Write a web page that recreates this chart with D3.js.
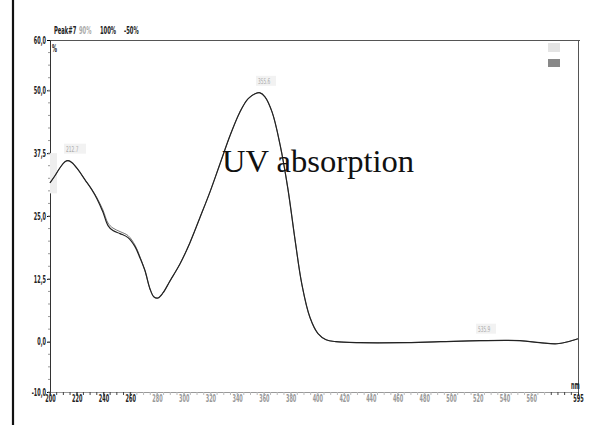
<!DOCTYPE html>
<html><head><meta charset="utf-8">
<script src="https://cdn.jsdelivr.net/npm/d3@7"></script>
<style>body{margin:0;background:#fff}svg{display:block}</style>
</head><body>
<script>
const wavelengths = [200,203.7,207.5,211.2,213.5,216.5,221,226.2,231.4,235.2,239.6,243.4,247.1,252.4,258.4,263.6,267.3,271.1,274.8,277.8,280.8,284.5,289.8,297.3,304.7,312.2,319.7,327.2,334.7,342.1,348.1,353.4,357.1,360.8,366.1,372.1,378.1,383.3,388.5,394.5,400.5,406.5,414,432,462,492,521.7,551.6,566.6,579.3,587.5,595];
const scan1 = [31.6,33.0,34.6,35.8,36.0,35.6,34.2,32.2,30.2,28.4,25.8,23.1,22.1,21.5,20.7,18.9,16.7,14.1,10.5,8.9,8.7,9.7,12.1,15.5,19.7,24.7,29.8,35.4,41.0,45.7,48.3,49.3,49.5,48.7,45.7,39.2,30.2,20.3,11.3,4.8,1.6,0.4,0,-0.2,-0.2,0,0.2,0.2,-0.2,-0.4,0,0.6];
const scan2 = [31.6,33.0,34.6,35.8,36.0,35.6,34.2,32.2,30.2,28.6,26.2,23.6,22.6,21.9,21.1,19.2,16.9,14.1,10.5,8.9,8.7,9.7,12.1,15.5,19.7,24.7,29.8,35.4,41.0,45.7,48.3,49.3,49.5,48.7,45.7,39.2,30.2,20.3,11.3,4.8,1.6,0.4,0,-0.2,-0.2,0,0.2,0.2,-0.2,-0.4,0,0.6];
const xTickValues = [200,220,240,260,280,300,320,340,360,380,400,420,440,460,480,500,520,540,560,595];
const yTickValues = [60,50,37.5,25,12.5,0,-10];
const yTickLabels = ["60,0","50,0","37,5","25,0","12,5","0,0","-10,0"];
const peakNames = ["212.7","355.6","535.9"];
const peakX = [213.5,357.1,521.7];
const peakY = [36.0,49.5,0.2];
const headerTexts = ["Peak#7","90%","100%","-50%"];

const W=597,H=425;
const svg=d3.select("body").append("svg").attr("width",W).attr("height",H);
const x=d3.scaleLinear().domain([200,595]).range([50,578]);
const y=d3.scaleLinear().domain([-10,60]).range([392,40]);

svg.append("line").attr("x1",13).attr("x2",13).attr("y1",0).attr("y2",H).attr("stroke","#111").attr("stroke-width",2.2);

svg.append("line").attr("x1",50).attr("x2",580).attr("y1",40.5).attr("y2",40.5).attr("stroke","#555").attr("stroke-width",1);
svg.append("line").attr("x1",578.5).attr("x2",578.5).attr("y1",40).attr("y2",395).attr("stroke","#555").attr("stroke-width",1);

const font="'DejaVu Sans Condensed','Liberation Sans',sans-serif";
const sx=0.55;

// y axis
const yAxis=d3.axisLeft(y).tickValues(yTickValues).tickFormat((d,i)=>yTickLabels[i]).tickSize(3);
const gy=svg.append("g").attr("transform","translate(50,0)").call(yAxis);
gy.select(".domain").attr("stroke","#333");
gy.selectAll("text").attr("font-family",font).attr("font-size",10).attr("font-weight","bold").attr("fill","#222")
  .attr("x",-4/sx).attr("transform",`scale(${sx},1)`);
const yMinor=d3.range(-10,60,2.5);
svg.append("g").selectAll("line").data(yMinor).join("line").attr("x1",48).attr("x2",50).attr("y1",d=>y(d)).attr("y2",d=>y(d)).attr("stroke","#999");

// x axis
const xAxis=d3.axisBottom(x).tickValues(xTickValues).tickFormat(d=>d).tickSize(4);
const gx=svg.append("g").attr("transform","translate(0,392)").call(xAxis);
gx.select(".domain").attr("stroke","#999");
gx.selectAll(".tick line").attr("stroke",d=>d<=260||d>=595?"#333":"#aaa");
gx.selectAll("text").attr("font-family",font).attr("font-size",10).attr("font-weight","bold").attr("dy",3)
  .attr("transform",`scale(${sx},1)`)
  .attr("fill",d=>d<=260||d>=595?"#222":"#999");

const xMinor=d3.range(200,595,5);
svg.append("g").selectAll("line").data(xMinor).join("line").attr("x1",d=>x(d)).attr("x2",d=>x(d)).attr("y1",392).attr("y2",395)
  .attr("stroke",d=>d<265||d>570?"#444":"#bbb");

svg.append("text").attr("transform","translate(52,52) scale(0.55,1)").text("%").attr("font-family",font).attr("font-size",10).attr("font-weight","bold").attr("fill","#222");
svg.append("text").attr("transform","translate(571,389) scale(0.55,1)").text("nm").attr("font-family",font).attr("font-size",10).attr("font-weight","bold").attr("fill","#222");

// header
const hx=[54,79,100,124];
svg.append("g").selectAll("text").data(headerTexts).join("text")
  .attr("transform",(d,i)=>`translate(${hx[i]},34) scale(0.58,1)`).text(d=>d)
  .attr("font-family",font).attr("font-size",10).attr("font-weight","bold").attr("fill",(d,i)=>i===1?"#aaa":"#222");

svg.append("rect").attr("x",548).attr("y",43).attr("width",12).attr("height",9).attr("fill","#e4e4e4");
svg.append("rect").attr("x",548).attr("y",59).attr("width",12).attr("height",8).attr("fill","#888");

const bgw=[22,20,20];
svg.append("g").selectAll("rect").data(peakNames).join("rect")
  .attr("x",(d,i)=>x(peakX[i])-4).attr("y",(d,i)=>y(peakY[i])-17).attr("width",(d,i)=>bgw[i]).attr("height",10).attr("fill","#f2f2f2");
svg.append("rect").attr("x",50).attr("y",y(37.5)).attr("width",7).attr("height",y(29.5)-y(37.5)).attr("fill","#eeeeee");

const line=d3.line().x((d,i)=>x(wavelengths[i])).y(d=>y(d)).curve(d3.curveCatmullRom);
svg.append("path").datum(scan2).attr("d",line).attr("fill","none").attr("stroke","#777").attr("stroke-width",1);
svg.append("path").datum(scan1).attr("d",line).attr("fill","none").attr("stroke","#222").attr("stroke-width",1.2);

svg.append("g").selectAll("text").data(peakNames).join("text")
  .attr("transform",(d,i)=>`translate(${x(peakX[i])-2},${y(peakY[i])-9}) scale(0.6,1)`).text(d=>d)
  .attr("font-family",font).attr("font-size",8).attr("fill","#aaa");

svg.append("text").attr("x",222).attr("y",172).text("UV absorption")
  .attr("font-family","'Liberation Serif','Times New Roman',serif").attr("font-size",32.6).attr("fill","#111");
</script>
</body></html>
